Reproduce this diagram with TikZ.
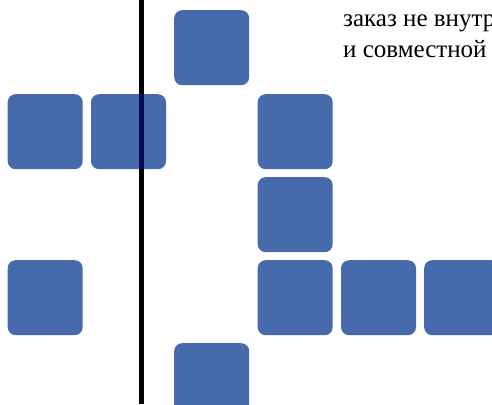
\documentclass[tikz,border=0pt]{standalone}
\usepackage{fontspec}
\setmainfont{Liberation Serif}
\definecolor{boxblue}{RGB}{70,106,172}
\definecolor{linenavy}{RGB}{6,10,84}
\begin{document}
\begin{tikzpicture}[x=1pt,y=-1pt,
  tile/.style={fill=boxblue,draw=none,rounded corners=8pt,minimum width=75pt,minimum height=75pt,inner sep=0pt,anchor=north west},
  txt/.style={inner sep=0pt,anchor=base west,font=\fontsize{25}{30}\selectfont}]
\useasboundingbox (0,0) rectangle (492,404);
\clip (0,0) rectangle (492,404);
% tiles
\node[tile] (b1) at (174,10) {};
\node[tile] (b2) at (7.5,94) {};
\node[tile] (b3) at (90.8,94) {};
\node[tile] (b4) at (257.5,94) {};
\node[tile] (b5) at (257.5,177) {};
\node[tile] (b6) at (7.5,260) {};
\node[tile] (b7) at (257.5,260) {};
\node[tile] (b8) at (340.8,260) {};
\node[tile] (b9) at (424,260) {};
\node[tile] (b10) at (174,343) {};
% vertical line
\coordinate (ltop) at (141.3,0);
\coordinate (lbot) at (141.3,404);
\draw[line width=5pt,black] (ltop) -- (lbot);
\draw[line width=5pt,linenavy] (ltop |- b3.north) -- (ltop |- b3.south);
% text
\node[txt] (t1) at (343,26.5) {заказ не внутр};
\node[txt] (t2) at (343,57) {и совместной};
\end{tikzpicture}
\end{document}
